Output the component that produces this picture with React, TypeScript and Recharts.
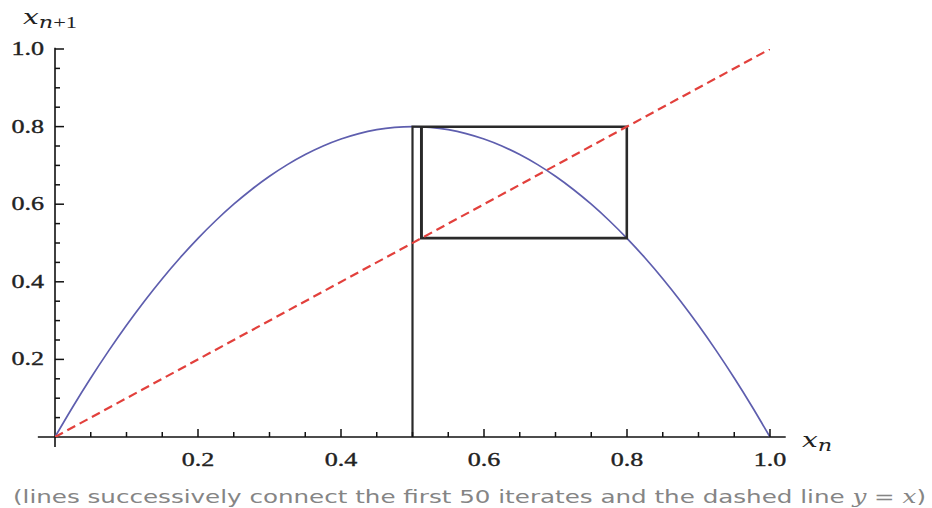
import React from 'react';
import { ComposedChart, Line, XAxis, YAxis, ReferenceLine } from 'recharts';

// Logistic map x_{n+1} = r x_n (1 - x_n), r = 3.2, sampled on a regular grid
const curveX = [
  0, 0.025, 0.05, 0.075, 0.1, 0.125, 0.15, 0.175, 0.2, 0.225, 0.25, 0.275, 0.3, 0.325,
  0.35, 0.375, 0.4, 0.425, 0.45, 0.475, 0.5, 0.525, 0.55, 0.575, 0.6, 0.625, 0.65, 0.675,
  0.7, 0.725, 0.75, 0.775, 0.8, 0.825, 0.85, 0.875, 0.9, 0.925, 0.95, 0.975, 1,
];
const curveY = [
  0, 0.078, 0.152, 0.222, 0.288, 0.35, 0.408, 0.462, 0.512, 0.558, 0.6, 0.638, 0.672, 0.702,
  0.728, 0.75, 0.768, 0.782, 0.792, 0.798, 0.8, 0.798, 0.792, 0.782, 0.768, 0.75, 0.728, 0.702,
  0.672, 0.638, 0.6, 0.558, 0.512, 0.462, 0.408, 0.35, 0.288, 0.222, 0.152, 0.078, 0,
];

// First 50 iterates starting from x0 = 0.5 (settles on the 2-cycle)
const iterates = [
  0.5, 0.8, 0.512, 0.79954, 0.51288, 0.79947, 0.51302, 0.79946, 0.51304, 0.79946,
  0.51304, 0.79946, 0.51304, 0.79946, 0.51304, 0.79946, 0.51304, 0.79946, 0.51304, 0.79946,
  0.51304, 0.79946, 0.51304, 0.79946, 0.51304, 0.79946, 0.51304, 0.79946, 0.51304, 0.79946,
  0.51304, 0.79946, 0.51304, 0.79946, 0.51304, 0.79946, 0.51304, 0.79946, 0.51304, 0.79946,
  0.51304, 0.79946, 0.51304, 0.79946, 0.51304, 0.79946, 0.51304, 0.79946, 0.51304, 0.79946,
];

// Diagonal y = x
const diagonalX = [0, 1];
const diagonalY = [0, 1];

// Axis ticks (every 0.05, labels every 0.2)
const xTicks = [0.05, 0.1, 0.15, 0.2, 0.25, 0.3, 0.35, 0.4, 0.45, 0.5, 0.55, 0.6, 0.65, 0.7, 0.75, 0.8, 0.85, 0.9, 0.95, 1.0];
const yTicks = [0.05, 0.1, 0.15, 0.2, 0.25, 0.3, 0.35, 0.4, 0.45, 0.5, 0.55, 0.6, 0.65, 0.7, 0.75, 0.8, 0.85, 0.9, 0.95, 1.0];
const labeledTicks = ['0.2', '0.4', '0.6', '0.8', '1.0'];

const captionParts = ['(lines successively connect the first 50 iterates and the dashed line ', 'y', ' = ', 'x', ')'];

const curveData = curveX.map((x, i) => ({ x, y: curveY[i] }));
const diagonalData = diagonalX.map((x, i) => ({ x, y: diagonalY[i] }));

// Cobweb path: up from the x-axis, then alternate to the curve and the diagonal
const cobwebData: { x: number; y: number }[] = [{ x: iterates[0], y: 0 }];
for (let i = 0; i < iterates.length - 1; i++) {
  cobwebData.push({ x: iterates[i], y: iterates[i + 1] });
  cobwebData.push({ x: iterates[i + 1], y: iterates[i + 1] });
}

const SERIF = '"Liberation Serif", "Times New Roman", serif';
const ITALIC_SERIF = '"DejaVu Serif", "Liberation Serif", serif';
const AXIS_COLOR = '#111';

const labelFor = (v: number) => {
  const s = v.toFixed(1);
  return Math.abs(v * 5 - Math.round(v * 5)) < 1e-6 ? s : null;
};

const XTick = (props: any) => {
  const { x, y, payload } = props;
  const label = labelFor(payload.value);
  const major = label !== null && labeledTicks.includes(label);
  return (
    <g>
      <line x1={x} x2={x} y1={y} y2={y - (major ? 8 : 5)} stroke={AXIS_COLOR} strokeWidth={1.5} />
      {major && (
        <text
          transform={`translate(${x},${y + 29}) scale(1.45,1)`}
          textAnchor="middle"
          fontFamily={SERIF}
          fontSize={18}
          fill="#222"
          stroke="#222"
          strokeWidth={0.35}
        >
          {label}
        </text>
      )}
    </g>
  );
};

const YTick = (props: any) => {
  const { x, y, payload } = props;
  const label = labelFor(payload.value);
  const major = label !== null && labeledTicks.includes(label);
  return (
    <g>
      <line x1={x} x2={x + (major ? 9 : 5)} y1={y} y2={y} stroke={AXIS_COLOR} strokeWidth={1.5} />
      {major && (
        <text
          transform={`translate(${x - 11},${y + 6}) scale(1.45,1)`}
          textAnchor="end"
          fontFamily={SERIF}
          fontSize={18}
          fill="#222"
          stroke="#222"
          strokeWidth={0.35}
        >
          {label}
        </text>
      )}
    </g>
  );
};

export default function App() {
  return (
    <div style={{ position: 'absolute', left: 0, top: 0, width: 932, height: 508, background: '#fff' }}>
      <ComposedChart
        width={932}
        height={508}
        margin={{ top: 49, right: 162, bottom: 41, left: 5 }}
      >
        <XAxis
          type="number"
          dataKey="x"
          domain={[0, 1]}
          ticks={xTicks}
          interval={0}
          height={30}
          tickSize={0}
          tickMargin={0}
          axisLine={false}
          tickLine={false}
          tick={(p: any) => <XTick {...p} />}
          allowDataOverflow
        />
        <YAxis
          type="number"
          dataKey="y"
          domain={[0, 1]}
          ticks={yTicks}
          interval={0}
          width={50}
          tickSize={0}
          tickMargin={0}
          axisLine={false}
          tickLine={false}
          tick={(p: any) => <YTick {...p} />}
          allowDataOverflow
        />
        <ReferenceLine
          segment={[{ x: -0.024, y: 0 }, { x: 1.022, y: 0 }]}
          stroke={AXIS_COLOR}
          strokeWidth={1.6}
          ifOverflow="visible"
        />
        <ReferenceLine
          segment={[{ x: 0, y: -0.026 }, { x: 0, y: 1.003 }]}
          stroke={AXIS_COLOR}
          strokeWidth={1.6}
          ifOverflow="visible"
        />
        <Line
          data={curveData}
          dataKey="y"
          type="monotone"
          stroke="#5e5eae"
          strokeWidth={1.7}
          dot={false}
          activeDot={false}
          isAnimationActive={false}
        />
        <Line
          data={cobwebData}
          dataKey="y"
          type="linear"
          stroke="#2a2a2a"
          strokeWidth={2.2}
          dot={false}
          activeDot={false}
          isAnimationActive={false}
        />
        <Line
          data={diagonalData}
          dataKey="y"
          type="linear"
          stroke="#e2403c"
          strokeWidth={2.2}
          strokeDasharray="9 5"
          dot={false}
          activeDot={false}
          isAnimationActive={false}
        />
      </ComposedChart>
      <svg
        width={932}
        height={508}
        style={{ position: 'absolute', left: 0, top: 0, pointerEvents: 'none' }}
      >
        <text transform="translate(23,24) scale(1.4,1)" fontFamily={ITALIC_SERIF} fill="#222">
          <tspan fontSize={20} fontStyle="italic">x</tspan>
          <tspan fontSize={16} fontStyle="italic" dy={4}>n</tspan>
          <tspan fontSize={16} fontFamily={SERIF}>+1</tspan>
        </text>
        <text transform="translate(802,447) scale(1.4,1)" fontFamily={ITALIC_SERIF} fill="#222">
          <tspan fontSize={20} fontStyle="italic">x</tspan>
          <tspan fontSize={16} fontStyle="italic" dy={4}>n</tspan>
        </text>
        <text
          x={13}
          y={503}
          fontFamily='"DejaVu Sans", sans-serif'
          fontSize={18}
          fill="#858585"
          textLength={913}
          lengthAdjust="spacingAndGlyphs"
        >
          <tspan>{captionParts[0]}</tspan>
          <tspan fontStyle="italic" fontFamily={ITALIC_SERIF}>{captionParts[1]}</tspan>
          <tspan>{captionParts[2]}</tspan>
          <tspan fontStyle="italic" fontFamily={ITALIC_SERIF}>{captionParts[3]}</tspan>
          <tspan>{captionParts[4]}</tspan>
        </text>
      </svg>
    </div>
  );
}
